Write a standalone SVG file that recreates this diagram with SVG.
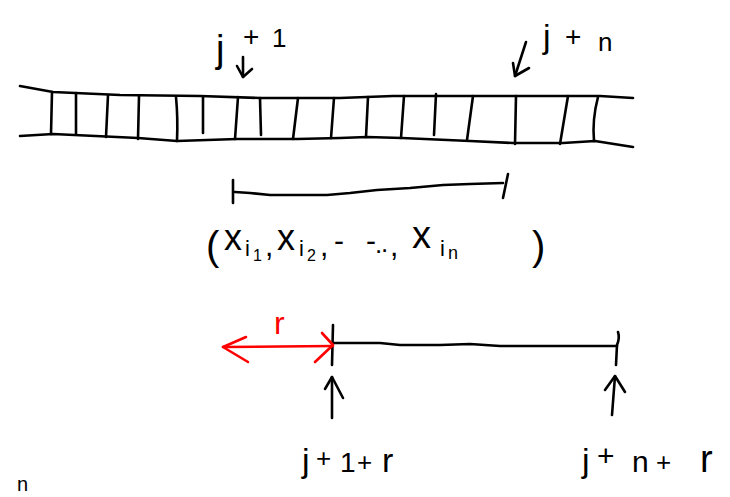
<svg xmlns="http://www.w3.org/2000/svg" width="730" height="497" viewBox="0 0 730 497">
<style>
.s{fill:none;stroke:#000;stroke-width:2.6;stroke-linecap:round;stroke-linejoin:round}
.r{fill:none;stroke:#f00;stroke-width:2.6;stroke-linecap:round;stroke-linejoin:round}
text{font-family:"Liberation Sans",Arial,sans-serif;fill:#000}
</style>
<rect width="730" height="497" fill="#fff"/>
<g id="tape" class="s">
<polyline points="20,86 53,92 120,95 200,96 260,98 340,98 393,96 557,96 600,96 633,98"/>
<polyline points="20,136 53,134 138,138 177,141 237,139 297,139 340,138 367,137 402,138 470,141 513,143 563,143 595,141 633,147"/>
<line x1="52" y1="92" x2="51" y2="134"/>
<line x1="76" y1="93" x2="76" y2="134"/>
<line x1="108" y1="95" x2="106" y2="137"/>
<line x1="139" y1="96" x2="138" y2="139"/>
<path d="M176,97 Q178,118 177,141"/>
<line x1="203" y1="97" x2="203" y2="133"/>
<line x1="238" y1="97" x2="235" y2="139"/>
<line x1="260" y1="98" x2="261" y2="135"/>
<line x1="298" y1="98" x2="293" y2="139"/>
<line x1="334" y1="98" x2="331" y2="138"/>
<line x1="368" y1="97" x2="366" y2="137"/>
<line x1="404" y1="96" x2="401" y2="138"/>
<line x1="436" y1="94" x2="434" y2="135"/>
<line x1="473" y1="96" x2="467" y2="140"/>
<line x1="516" y1="96" x2="515" y2="144"/>
<line x1="568" y1="96" x2="560" y2="144"/>
<path d="M598,97 Q592,120 594,141"/>
</g>
<g id="label-j1">
<text x="216" y="62" font-size="38">j</text>
<text x="243" y="46" font-size="28">+</text>
<text x="272" y="47" font-size="26">1</text>
</g>
<g id="label-jn">
<text x="543" y="48" font-size="34">j</text>
<text x="565" y="46" font-size="28">+</text>
<text x="598" y="51" font-size="26">n</text>
</g>
<g id="segment" class="s">
<line x1="233" y1="180" x2="233" y2="203"/>
<polyline points="235,192 250,193 270,195 300,195 327,195 350,193 377,190 410,188 443,185 470,184 503,183"/>
<line x1="508" y1="174" x2="503" y2="198"/>
</g>
<g id="tuple">
<text x="206" y="260" font-size="40">(</text>
<text x="224" y="250" font-size="36">x</text>
<text x="245" y="256" font-size="22">i</text>
<text x="253" y="261" font-size="16">1</text>
<text x="265" y="256" font-size="30">,</text>
<text x="277" y="250" font-size="36">x</text>
<text x="299" y="256" font-size="22">i</text>
<text x="307" y="261" font-size="16">2</text>
<text x="320" y="256" font-size="30">,</text>
<text x="334" y="251" font-size="30">-</text>
<text x="366" y="251" font-size="30">-</text>
<text x="375" y="253" font-size="26">.</text>
<text x="381" y="252" font-size="26">.</text>
<text x="390" y="256" font-size="30">,</text>
<text x="412" y="248" font-size="38">x</text>
<text x="440" y="256" font-size="22">i</text>
<text x="448" y="259" font-size="18">n</text>
<text x="532" y="260" font-size="40">)</text>
</g>
<g id="numberline" class="s">
<line x1="333" y1="325" x2="332" y2="365"/>
<polyline points="333,343 380,343 400,345 440,345 470,344 500,346 540,346 580,346 617,346"/>
<path d="M618,332 Q620,338 617,345 L616,365"/>
</g>
<g id="label-r">
<text x="274" y="334" font-size="32" style="fill:#f00">r</text>
</g>
<g id="label-j1r">
<text x="302" y="472" font-size="34">j</text>
<text x="316" y="467" font-size="26">+</text>
<text x="340" y="472" font-size="28">1</text>
<text x="357" y="471" font-size="26">+</text>
<text x="382" y="472" font-size="34">r</text>
</g>
<g id="label-jnr">
<text x="582" y="472" font-size="34">j</text>
<text x="597" y="466" font-size="30">+</text>
<text x="632" y="472" font-size="30">n</text>
<text x="656" y="471" font-size="26">+</text>
<text x="700" y="472" font-size="38">r</text>
</g>
<g id="label-n">
<text x="17" y="491" font-size="20">n</text>
</g>
<g id="connectors">
<g class="s">
<line x1="243" y1="57" x2="243" y2="77"/>
<polyline points="237,66 243,77 252,69"/>
<line x1="526" y1="42" x2="515" y2="76"/>
<polyline points="513,63 515,76 529,68"/>
<line x1="332" y1="418" x2="332" y2="377"/>
<polyline points="325,389 332,377 343,398"/>
<line x1="612" y1="415" x2="615" y2="376"/>
<polyline points="605,390 615,376 625,392"/>
</g>
<g class="r">
<line x1="223" y1="347" x2="333" y2="346"/>
<polyline points="246,337 223,347 248,362"/>
<polyline points="322,333 333,345 315,362"/>
</g>
</g>
</svg>
